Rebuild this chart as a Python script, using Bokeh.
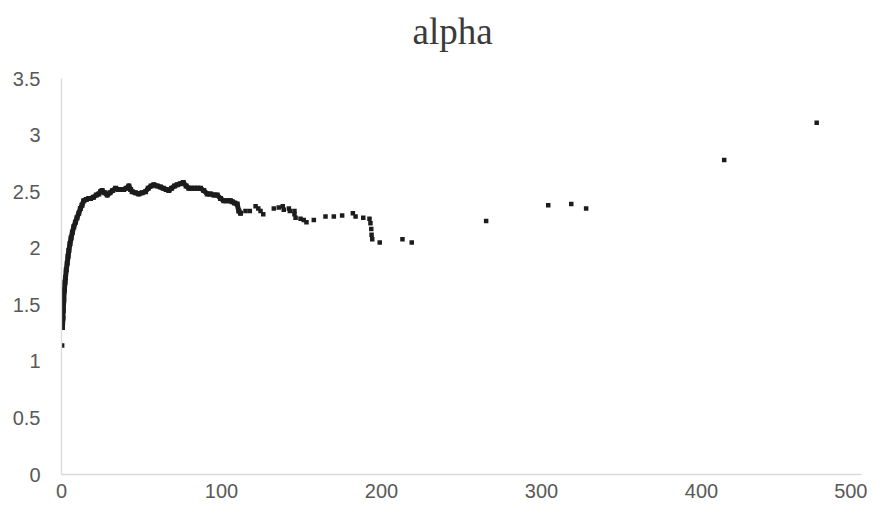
from bokeh.plotting import figure
from bokeh.models import Range1d, FixedTicker, Title
from bokeh.embed import file_html
from bokeh.resources import INLINE

# ---- data ----
title_text = "alpha"

# dense part of the series (drawn as overlapping markers)
dense_x = [0.6, 0.9, 1.1, 1.4, 1.8, 2.2, 2.5, 3.0, 3.6, 4.1, 4.6, 5.3, 6.0, 6.8, 7.7, 8.7,
           9.7, 10.8, 11.8, 12.8, 13.9, 15.5, 17.0, 18.1, 20.0, 21.8, 23.3, 24.4, 25.4, 27.0,
           28.6, 30.3, 32.0, 33.8, 35.5, 37.2, 38.9, 40.5, 42.1, 43.2, 44.2, 46.2, 48.3, 50.4,
           52.5, 54.2, 56.0, 57.7, 59.8, 61.9, 63.6, 65.4, 67.1, 68.8, 70.6, 72.3, 74.2, 76.1,
           77.9, 79.6, 81.4, 83.2, 85.0, 86.9, 88.9, 91.1, 93.2, 95.2, 97.3, 99.4, 101.4, 103.5,
           105.6, 106.7, 108.2, 109.8, 110.8, 111.9]
dense_y = [1.30, 1.38, 1.45, 1.54, 1.63, 1.70, 1.74, 1.81, 1.87, 1.93, 1.98, 2.04, 2.09, 2.14,
           2.19, 2.23, 2.27, 2.31, 2.35, 2.38, 2.42, 2.43, 2.44, 2.44, 2.45, 2.47, 2.48, 2.50,
           2.51, 2.49, 2.47, 2.49, 2.51, 2.53, 2.52, 2.52, 2.52, 2.53, 2.55, 2.52, 2.50, 2.49,
           2.48, 2.49, 2.50, 2.53, 2.55, 2.56, 2.55, 2.54, 2.53, 2.52, 2.51, 2.53, 2.55, 2.56,
           2.57, 2.58, 2.55, 2.53, 2.53, 2.53, 2.53, 2.53, 2.51, 2.48, 2.48, 2.47, 2.47, 2.44,
           2.42, 2.42, 2.42, 2.41, 2.40, 2.39, 2.33, 2.31]

# isolated points
sparse_x = [0.4, 115.0, 117.7, 121.3, 123.0, 124.4, 126.1, 132.7, 135.8, 138.3, 138.9, 142.1,
            142.7, 145.6, 145.6, 146.3, 149.4, 151.4, 153.1, 157.7, 165.0, 170.2, 175.4, 182.1,
            183.8, 188.6, 192.5, 193.1, 193.6, 193.8, 194.2, 198.9, 213.1, 218.9, 265.4, 304.2,
            318.6, 327.9, 414.2, 472.0]
sparse_y = [1.14, 2.33, 2.33, 2.37, 2.35, 2.33, 2.30, 2.35, 2.36, 2.37, 2.34, 2.35,
            2.33, 2.33, 2.30, 2.27, 2.26, 2.25, 2.23, 2.25, 2.28, 2.28, 2.29, 2.31,
            2.28, 2.27, 2.26, 2.22, 2.17, 2.12, 2.08, 2.05, 2.08, 2.05, 2.24, 2.38,
            2.39, 2.35, 2.78, 3.11]

x_ticks = [0, 100, 200, 300, 400, 500]
x_tick_labels = ["0", "100", "200", "300", "400", "500"]
y_ticks = [0, 0.5, 1, 1.5, 2, 2.5, 3, 3.5]
y_tick_labels = ["0", "0.5", "1", "1.5", "2", "2.5", "3", "3.5"]

# ---- figure ----
p = figure(frame_width=800, frame_height=396,
           min_border_left=61, min_border_right=6, min_border_top=78, min_border_bottom=25,
           x_range=Range1d(0, 500), y_range=Range1d(0, 3.5),
           output_backend="svg", toolbar_location=None, tools="")

# spacer panel between the plot area and the title
p.add_layout(Title(text=" ", text_font_size="1px", standoff=20), "above")

p.title.text = title_text
p.title.text_font = "Liberation Serif"
p.title.text_font_size = "37px"
p.title.text_font_style = "normal"
p.title.text_color = "#3a3a3a"
p.title.align = "left"
p.title.offset = 351
p.title.standoff = 8

p.outline_line_color = None
p.xgrid.grid_line_color = None
p.ygrid.grid_line_color = None
p.background_fill_color = "white"
p.border_fill_color = "white"

for ax in (p.xaxis[0], p.yaxis[0]):
    ax.axis_line_color = "#d9d9d9"
    ax.axis_line_width = 1.3
    ax.major_tick_line_color = None
    ax.minor_tick_line_color = None
    ax.major_label_text_font = "Liberation Sans"
    ax.major_label_text_font_size = "20px"
    ax.major_label_text_color = "#595959"

p.xaxis[0].ticker = FixedTicker(ticks=x_ticks)
p.xaxis[0].major_label_overrides = {t: l for t, l in zip(x_ticks, x_tick_labels)}
p.xaxis[0].major_label_standoff = 3
p.yaxis[0].ticker = FixedTicker(ticks=y_ticks)
p.yaxis[0].major_label_overrides = {t: l for t, l in zip(y_ticks, y_tick_labels)}
p.yaxis[0].major_label_standoff = 15

mark = "#1c1c1c"
p.line(dense_x, dense_y, line_color=mark, line_width=5, line_join="round", line_cap="round")
p.scatter(dense_x, dense_y, marker="square", size=5, fill_color=mark, line_color=None)
p.scatter(sparse_x, sparse_y, marker="square", size=4.5, fill_color=mark, line_color=None)

open("out.html", "w").write(file_html(p, INLINE))
